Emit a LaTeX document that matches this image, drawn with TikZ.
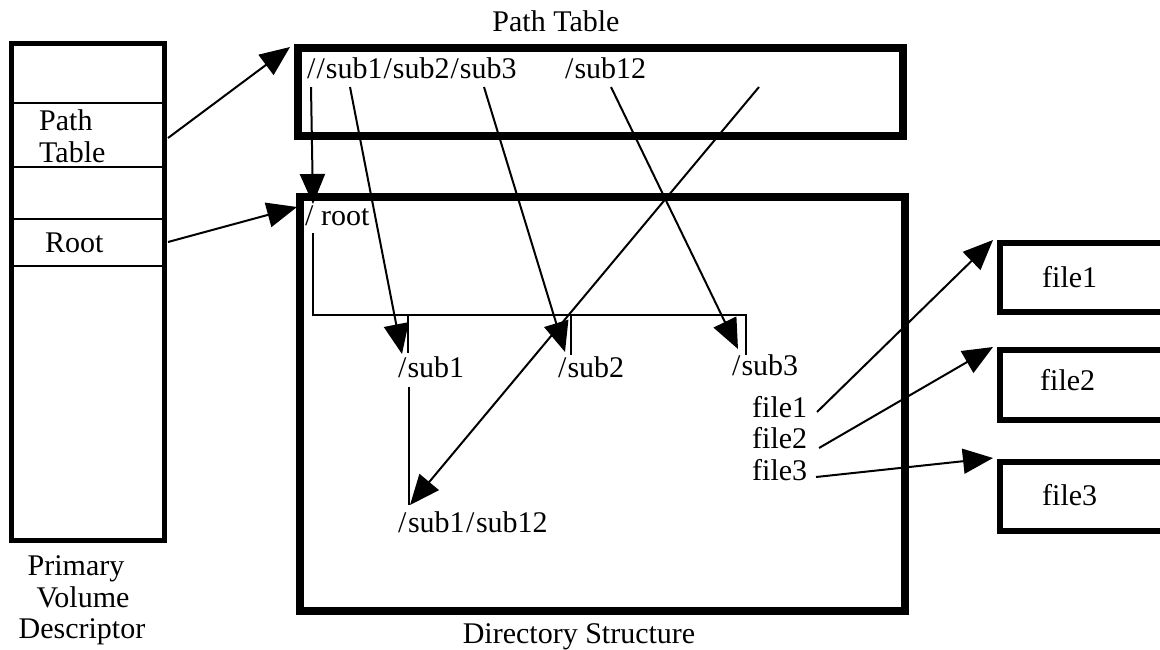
\documentclass[tikz,border=0pt]{standalone}
\usepackage{fontspec}
\setmainfont{Liberation Serif}
\usetikzlibrary{arrows.meta}
\begin{document}
\begin{tikzpicture}[x=1pt,y=-1pt,
  txt/.style={inner sep=0pt, anchor=base west, font=\fontsize{30}{32}\selectfont},
  ctxt/.style={inner sep=0pt, anchor=base, font=\fontsize{30}{32}\selectfont},
  thinline/.style={line width=2pt},
  pvdbox/.style={line width=5pt},
  bigbox/.style={line width=7.5pt},
  filebox/.style={line width=6.5pt},
  arr/.style={line width=2pt, -{Triangle[length=30pt,width=25pt]}}
]
\useasboundingbox (0,0) rectangle (1160,649);

% Primary Volume Descriptor
\draw[pvdbox] (11,43) rectangle (164,540);
\foreach \yy in {103,167,219,266} \draw[thinline] (11,\yy) -- (164,\yy);
\node[txt] (pvdpath) at (39,130) {Path};
\node[txt] (pvdtable) at (39,162) {Table};
\node[txt] (pvdroot) at (45,252) {Root};
\node[ctxt] (prim) at (76,575) {Primary};
\node[ctxt] (vol) at (83,607) {Volume};
\node[ctxt] (desc) at (82,638) {Descriptor};

% Path table
\draw[bigbox] (298,48) rectangle (903,136);
\node[ctxt] (pttitle) at (556,31) {Path Table};
\node[txt] (ptentries) at (307,78) {/\kern1pt/\kern1pt sub1\kern1pt/\kern1pt sub2\kern1pt/\kern1pt sub3};
\node[txt] (ptsub12) at (565,78) {/\kern1pt sub12};

% Directory structure
\draw[bigbox] (300,197) rectangle (905,611);
\node[ctxt] (dstitle) at (579,643) {Directory Structure};
\node[txt] (root) at (305,225) {/ root};
\node[txt] (sub1) at (398,377) {/\kern1pt sub1};
\node[txt] (sub2) at (558,377) {/\kern1pt sub2};
\node[txt] (sub3) at (732,375) {/\kern1pt sub3};
\node[txt] (f1) at (752,417) {file1};
\node[txt] (f2) at (752,448) {file2};
\node[txt] (f3) at (752,480) {file3};
\node[txt] (sub12) at (398,532) {/\kern1.5pt sub1\kern1.5pt/\kern1.5pt sub12};

% tree
\draw[thinline] (313,233) -- (313,315) -- (746,315) -- (746,355);
\draw[thinline] (408,315) -- (408,353);
\draw[thinline] (571,315) -- (571,355);
\draw[thinline] (409,387) -- (409,505);

% File boxes
\draw[filebox] (1160,243) -| (1000,312) -- (1160,312);
\draw[filebox] (1160,350) -| (1000,420) -- (1160,420);
\draw[filebox] (1160,462) -| (1000,531) -- (1160,531);
\node[txt] (fb1) at (1042,287) {file1};
\node[txt] (fb2) at (1040,390) {file2};
\node[txt] (fb3) at (1042,505) {file3};

% arrow end points
\coordinate (aPT0) at (168,138);  \coordinate (aPT1) at (290,47);
\coordinate (aR0) at (168,242);   \coordinate (aR1) at (297,207);
\coordinate (aA0) at (311,87);    \coordinate (aA1) at (313,204);
\coordinate (aB0) at (350,87);    \coordinate (aB1) at (402,354);
\coordinate (aC0) at (484,87);    \coordinate (aC1) at (565,352);
\coordinate (aD0) at (611,87);    \coordinate (aD1) at (738,349);
\coordinate (aE0) at (759,87);    \coordinate (aE1) at (410,505);
\coordinate (aF10) at (817,412);  \coordinate (aF11) at (993,240);
\coordinate (aF20) at (819,448);  \coordinate (aF21) at (993,347);
\coordinate (aF30) at (816,477);  \coordinate (aF31) at (993,458);

\draw[arr] (aPT0) -- (aPT1);
\draw[arr] (aR0) -- (aR1);
\draw[arr] (aA0) -- (aA1);
\draw[arr] (aB0) -- (aB1);
\draw[arr] (aC0) -- (aC1);
\draw[arr] (aD0) -- (aD1);
\draw[arr] (aE0) -- (aE1);
\draw[arr] (aF10) -- (aF11);
\draw[arr] (aF20) -- (aF21);
\draw[arr] (aF30) -- (aF31);
\end{tikzpicture}
\end{document}
